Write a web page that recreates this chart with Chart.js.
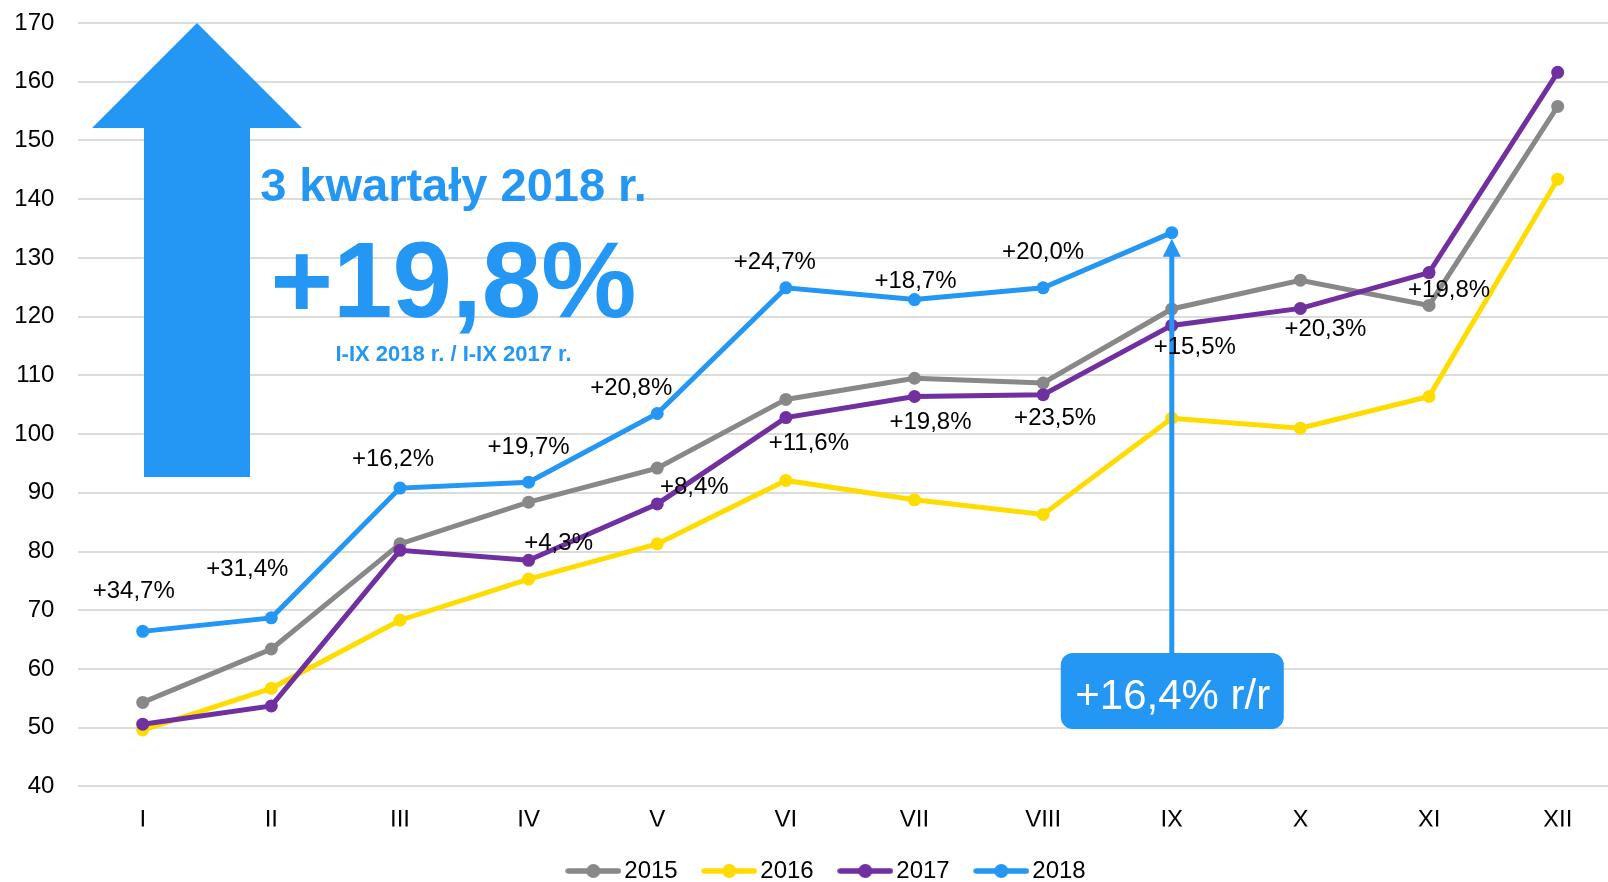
<!DOCTYPE html>
<html>
<head>
<meta charset="utf-8">
<script src="https://cdn.jsdelivr.net/npm/chart.js@4.4.1/dist/chart.umd.min.js"></script>
<style>
  html, body { margin: 0; padding: 0; overflow: hidden; background: #fff; }
  #monthChart { display: block; }
</style>
</head>
<body>
<canvas id="monthChart" width="1622" height="893"></canvas>
<script>
// months and yearly series
const months = ['I', 'II', 'III', 'IV', 'V', 'VI', 'VII', 'VIII', 'IX', 'X', 'XI', 'XII'];
const years = ['2015', '2016', '2017', '2018'];
const v2015 = [54.3, 63.4, 81.3, 88.4, 94.2, 105.9, 109.5, 108.7, 121.3, 126.2, 121.9, 155.8];
const v2016 = [49.6, 56.7, 68.3, 75.3, 81.3, 92.1, 88.8, 86.3, 102.7, 101.0, 106.4, 143.4];
const v2017 = [50.6, 53.7, 80.2, 78.5, 88.1, 102.8, 106.4, 106.7, 118.5, 121.4, 127.5, 161.6];
const v2018 = [66.4, 68.7, 90.8, 91.8, 103.5, 124.9, 122.9, 124.9, 134.3, null, null, null];

// y/y growth labels
const growth2018 = ['+34,7%', '+31,4%', '+16,2%', '+19,7%', '+20,8%', '+24,7%', '+18,7%', '+20,0%', null, null, null, null];
const growth2017 = [null, null, null, '+4,3%', '+8,4%', '+11,6%', '+19,8%', '+23,5%', '+15,5%', '+20,3%', '+19,8%', null];

const yMin = 40, yMax = 170, yStep = 10;

// annotation texts
const headline = '3 kwartały 2018 r.';
const bigValue = '+19,8%';
const subline = 'I-IX 2018 r. / I-IX 2017 r.';
const sepValue = '+16,4% r/r';
const sepIndex = 8;

// label offsets from the point (px)
const off2018 = [[-9, -40], [-24, -48], [-7, -29], [0, -35], [-26, -25], [-11, -25], [1, -18], [0, -35]];
const off2017 = [null, null, null, [30, -17], [37, -17], [23, 26], [16, 26], [12, 24], [23, 22], [25, 21], [20, 18]];

const BLUE = '#2397F3';
const colors = ['#888888', '#FFDC00', '#7030A0', BLUE];
const FONT = "'Liberation Sans', Arial, sans-serif";

Chart.defaults.font.family = FONT;
Chart.defaults.font.size = 24;
Chart.defaults.color = '#000';

function swatch(color) {
    const c = document.createElement('canvas');
    c.width = 56; c.height = 16;
    const g = c.getContext('2d');
    g.strokeStyle = color;
    g.lineWidth = 5.5;
    g.lineCap = 'round';
    g.beginPath(); g.moveTo(3, 8); g.lineTo(53, 8); g.stroke();
    g.fillStyle = color;
    g.beginPath(); g.arc(28, 8, 7, 0, Math.PI * 2); g.fill();
    return c;
}

function roundRect(ctx, x, y, w, h, r) {
    ctx.beginPath();
    ctx.moveTo(x + r, y);
    ctx.arcTo(x + w, y, x + w, y + h, r);
    ctx.arcTo(x + w, y + h, x, y + h, r);
    ctx.arcTo(x, y + h, x, y, r);
    ctx.arcTo(x, y, x + w, y, r);
    ctx.closePath();
}

const decor = {
    id: 'decor',
    afterLayout(chart) {
        // legend sits slightly right of the canvas centre in the original
        chart.legend.left += 19;
        chart.legend.right += 19;
    },
    beforeDatasetsDraw(chart) {
        const ctx = chart.ctx;
        ctx.save();
        // big up arrow
        ctx.fillStyle = BLUE;
        ctx.beginPath();
        ctx.moveTo(197, 23);
        ctx.lineTo(302, 128);
        ctx.lineTo(250, 128);
        ctx.lineTo(250, 477);
        ctx.lineTo(144, 477);
        ctx.lineTo(144, 128);
        ctx.lineTo(92, 128);
        ctx.closePath();
        ctx.fill();
        ctx.textAlign = 'center';
        ctx.textBaseline = 'alphabetic';
        ctx.font = 'bold 47px ' + FONT;
        ctx.fillText(headline, 453.5, 201);
        ctx.font = 'bold 107px ' + FONT;
        ctx.fillText(bigValue, 453.5, 317);
        ctx.font = 'bold 22px ' + FONT;
        ctx.fillText(subline, 453.5, 361);
        ctx.restore();
    },
    afterDatasetsDraw(chart) {
        const ctx = chart.ctx;
        const x = chart.scales.x.getPixelForValue(sepIndex);
        const pt = chart.getDatasetMeta(3).data[sepIndex];
        const tip = pt.y + 6;
        ctx.save();
        // thin arrow to September
        ctx.strokeStyle = BLUE;
        ctx.fillStyle = BLUE;
        ctx.lineWidth = 5;
        ctx.beginPath();
        ctx.moveTo(x, 655);
        ctx.lineTo(x, tip + 14);
        ctx.stroke();
        ctx.beginPath();
        ctx.moveTo(x, tip);
        ctx.lineTo(x + 9, tip + 18);
        ctx.lineTo(x - 9, tip + 18);
        ctx.closePath();
        ctx.fill();
        // value box
        roundRect(ctx, x - 111, 653, 223, 76, 12);
        ctx.fill();
        ctx.fillStyle = '#fff';
        ctx.font = '42px ' + FONT;
        ctx.textAlign = 'center';
        ctx.textBaseline = 'alphabetic';
        ctx.fillText(sepValue, x + 1, 709);

        // growth labels
        ctx.fillStyle = '#000';
        ctx.font = '24px ' + FONT;
        ctx.textBaseline = 'middle';
        const m18 = chart.getDatasetMeta(3).data;
        const m17 = chart.getDatasetMeta(2).data;
        growth2018.forEach((t, i) => {
            if (!t) return;
            ctx.fillText(t, m18[i].x + off2018[i][0], m18[i].y + off2018[i][1]);
        });
        growth2017.forEach((t, i) => {
            if (!t) return;
            ctx.fillText(t, m17[i].x + off2017[i][0], m17[i].y + off2017[i][1]);
        });
        ctx.restore();
    }
};

const series = [v2015, v2016, v2017, v2018];

const ctx = document.getElementById('monthChart').getContext('2d');
new Chart(ctx, {
    type: 'line',
    data: {
        labels: months,
        datasets: series.map((vals, i) => ({
            label: years[i],
            data: vals,
            borderColor: colors[i],
            backgroundColor: colors[i],
            borderWidth: 5,
            pointRadius: 6.5,
            pointBorderWidth: 0,
            pointBackgroundColor: colors[i],
            tension: 0,
            order: 4 - i
        }))
    },
    options: {
        responsive: false,
        animation: false,
        layout: { autoPadding: false, padding: { top: 23, left: 0, right: 0, bottom: 0 } },
        scales: {
            x: {
                offset: true,
                grid: { display: false },
                border: { display: false },
                ticks: { padding: 12, color: '#000' },
                afterFit(scale) {
                    scale.height = 40;
                    scale.paddingLeft = 0;
                    scale.paddingRight = 0;
                }
            },
            y: {
                min: yMin,
                max: yMax,
                ticks: { stepSize: yStep, padding: 24, color: '#000' },
                grid: { color: '#dcdcdc', lineWidth: 2, drawTicks: false },
                border: { display: false },
                afterFit(scale) {
                    scale.width = 78.4;
                    scale.paddingTop = 0;
                    scale.paddingBottom = 0;
                }
            }
        },
        plugins: {
            legend: {
                position: 'bottom',
                labels: {
                    usePointStyle: true,
                    pointStyleWidth: 38,
                    padding: 32.6,
                    color: '#000',
                    sort: (a, b) => a.datasetIndex - b.datasetIndex,
                    generateLabels(chart) {
                        const items = Chart.defaults.plugins.legend.labels.generateLabels(chart);
                        items.forEach(it => { it.pointStyle = swatch(colors[it.datasetIndex]); });
                        return items;
                    }
                }
            },
            tooltip: { enabled: false }
        }
    },
    plugins: [decor]
});
</script>
</body>
</html>
